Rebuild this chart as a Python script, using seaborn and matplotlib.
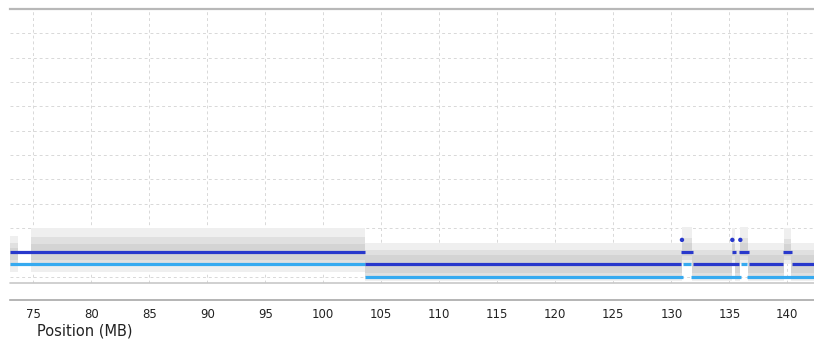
import numpy as np
import pandas as pd
import matplotlib
matplotlib.use("Agg")
import matplotlib.pyplot as plt
import seaborn as sns

# Segment calls (MB, value)
dark_start = [73.0, 103.6, 130.8, 131.9, 135.2, 135.85, 136.7, 139.6, 140.4]
dark_end = [103.6, 130.8, 131.9, 135.85, 135.6, 136.7, 139.6, 140.4, 142.3]
dark_val = [1.04, 0.53, 1.04, 0.53, 1.04, 1.04, 0.53, 1.04, 0.53]

light_start = [73.0, 103.6, 131.0, 131.7, 136.0, 136.5]
light_end = [103.6, 131.0, 131.7, 136.0, 136.5, 142.3]
light_val = [0.53, 0.01, 0.53, 0.01, 0.53, 0.01]

# single high points
dot_pos = [130.92, 135.26, 135.95]
dot_val = [1.52, 1.52, 1.52]

# gray probe cloud, summarised as bands per region
cloud_start = [73.0, 74.8, 103.6, 130.9, 131.8, 135.2, 135.5, 135.9, 136.6, 139.7, 140.3]
cloud_end = [73.7, 103.6, 130.9, 131.8, 135.2, 135.5, 135.9, 136.6, 139.7, 140.3, 142.3]
sparse_lo = [0.2, 0.2, -0.15, 0.55, -0.15, 0.55, -0.15, 0.55, -0.15, 0.55, -0.15]
sparse_hi = [1.7, 2.0, 1.4, 2.05, 1.4, 2.0, 1.4, 2.05, 1.4, 2.0, 1.4]
dense_lo = [0.45, 0.45, 0.0, 0.7, 0.0, 0.7, 0.0, 0.7, 0.0, 0.7, 0.0]
dense_hi = [1.4, 1.65, 1.1, 1.6, 1.1, 1.55, 1.1, 1.6, 1.1, 1.55, 1.1]
core_lo = [0.7, 0.7, 0.15, 0.85, 0.15, 0.85, 0.15, 0.85, 0.15, 0.85, 0.15]
core_hi = [1.2, 1.35, 0.9, 1.4, 0.9, 1.35, 0.9, 1.4, 0.9, 1.35, 0.9]

x_ticks = list(range(75, 145, 5))

DARK = "#2838cc"
LIGHT = "#36aaf0"

sns.set_style("white")
plt.rcParams['font.family'] = ['DejaVu Sans']

fig = plt.figure(figsize=(8.14, 3.44), dpi=100)
ax = fig.add_axes([10 / 814, 1 - 283 / 344, 804 / 814, 274 / 344])

# cloud
for i in range(len(cloud_start)):
    xs = [cloud_start[i], cloud_end[i]]
    ax.fill_between(xs, sparse_lo[i], sparse_hi[i], color="#efefef", lw=0, zorder=1)
    ax.fill_between(xs, dense_lo[i], dense_hi[i], color="#e0e0e0", lw=0, zorder=1)
    ax.fill_between(xs, core_lo[i], core_hi[i], color="#d4d4d4", lw=0, zorder=1)

ax.hlines(light_val, light_start, light_end, color=LIGHT, lw=2.3, zorder=3)
ax.hlines(dark_val, dark_start, dark_end, color=DARK, lw=2.3, zorder=4)
sns.scatterplot(x=dot_pos, y=dot_val, color=DARK, s=10, edgecolor="none", ax=ax, zorder=5)

ax.set_xlim(73.0, 142.3)
ax.set_ylim(-0.25, 11)
ax.set_xticks(x_ticks)
ax.set_yticks(range(0, 11))
ax.grid(True, color="#d8d8d8", lw=0.7, ls=(0, (3, 3)))
ax.set_axisbelow(True)
ax.tick_params(axis="y", length=0, labelleft=False)
ax.tick_params(axis="x", length=3, width=0.8, color="#999999", labelsize=8.5,
               labelcolor="#222222", pad=3)

for side in ["left", "right"]:
    ax.spines[side].set_visible(False)
ax.spines["top"].set_color("#b8b8b8")
ax.spines["top"].set_linewidth(1.6)
ax.spines["bottom"].set_position(("outward", 12.2))
ax.spines["bottom"].set_color("#a8a8a8")
ax.spines["bottom"].set_linewidth(1.2)
ax.axhline(-0.25, color="#c8c8c8", lw=1.2, clip_on=False, zorder=2)

ax.set_ylabel("")
ax.set_xlabel("Position (MB)", fontsize=10.5, color="#222222")
ax.xaxis.label.set_ha("left")
ax.xaxis.label.set_va("center")
ax.xaxis.set_label_coords(27 / 804, -48 / 274)

fig.savefig("out.png", dpi=100)
